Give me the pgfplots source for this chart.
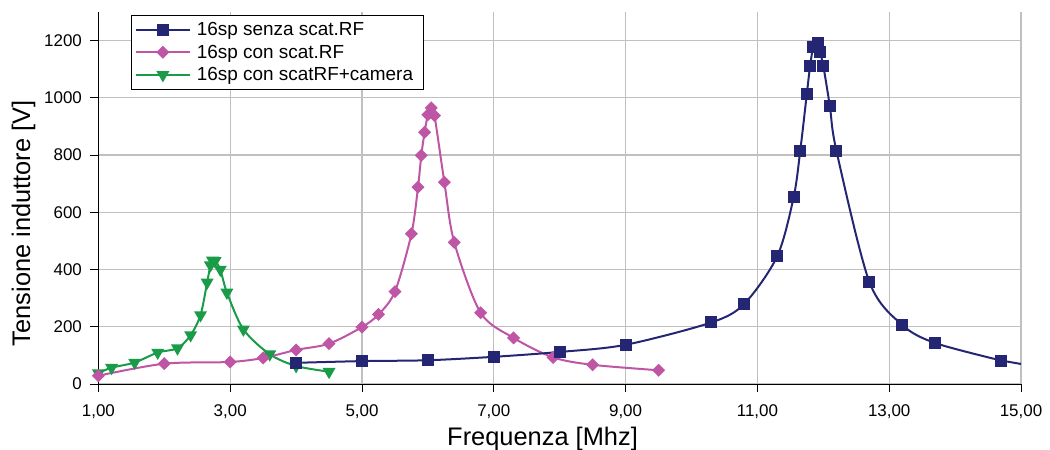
\documentclass[border=0pt]{standalone}
\usepackage{pgfplots}
\pgfplotsset{compat=1.18}
\usepackage{fontspec}
\setmainfont{Liberation Sans}
\definecolor{cblue}{RGB}{37,38,115}
\definecolor{cpink}{RGB}{190,85,165}
\definecolor{cgreen}{RGB}{25,155,72}
\definecolor{cgrid}{RGB}{192,192,192}
\begin{document}
\begin{tikzpicture}
\useasboundingbox (-98.4bp,-66bp) rectangle (951.6bp,384bp);
\begin{axis}[
  scale only axis,
  width=922.6bp, height=372bp,
  xmin=1, xmax=15, ymin=0, ymax=1300,
  xtick={1,3,5,7,9,11,13,15},
  ytick={0,200,400,600,800,1000,1200},
  axis x line*=bottom, axis y line*=left,
  axis line style={black, line width=0.8bp},
  tick align=outside,
  major tick length=8bp,
  tick style={black, line width=0.8bp},
  grid=major,
  major grid style={cgrid, line width=1.2bp},
  /pgf/number format/assume math mode=true,
  xticklabel style={/pgf/number format/fixed, /pgf/number format/fixed zerofill, /pgf/number format/precision=2, /pgf/number format/use comma, yshift=-9bp},
  yticklabel style={/pgf/number format/fixed, /pgf/number format/1000 sep={}, xshift=-5bp},
  ticklabel style={font=\fontsize{17}{20}\selectfont},
  xlabel={Frequenza [Mhz]},
  ylabel={Tensione induttore [V]},
  label style={font=\fontsize{25.5}{30}\selectfont},
  xlabel style={at={(axis description cs:0.4814,-0.164)}, anchor=base},
  ylabel style={at={(axis description cs:-0.0741,0.432)}, anchor=base},
  legend style={at={(axis description cs:0.035,0.992)}, anchor=north west,
    draw=black, fill=white,
    font=\fontsize{19}{21}\selectfont, row sep=4bp,
    inner xsep=4bp, inner ysep=5bp,
    nodes={inner xsep=6bp}},
  legend cell align=left,
  legend image code/.code={\draw[mark repeat=2,mark phase=2] plot coordinates {(0bp,0bp) (27bp,0bp) (54bp,0bp)};},
]
% green: 16sp con scatRF+camera
\addplot[cgreen, line width=2bp, smooth, mark=triangle*, mark size=5.5bp, mark options={rotate=180, solid}, forget plot] coordinates {
(1.0,38) (1.2,57) (1.55,75) (1.9,110) (2.2,125) (2.4,171) (2.55,241) (2.65,355) (2.7,415) (2.73,432) (2.77,430) (2.85,400) (2.95,320) (3.2,191) (3.6,104) (4.0,63) (4.5,43)
};
% pink: 16sp con scat.RF
\addplot[cpink, line width=2bp, smooth, mark=square*, mark size=3.6bp, mark options={rotate=45, solid}, forget plot] coordinates {
(1.0,29) (2.0,71) (3.0,77) (3.5,91) (4.0,119) (4.5,141) (5.0,199) (5.25,243) (5.5,323) (5.75,525) (5.85,688) (5.9,799) (5.95,880) (6.0,941) (6.05,965) (6.1,938) (6.25,705) (6.4,495) (6.8,249) (7.3,161) (7.9,93) (8.5,67) (9.5,48)
};
% blue: 16sp senza scat.RF
\addplot[cblue, line width=2bp, smooth, mark=square*, mark size=5bp, mark options={solid}, forget plot] coordinates {
(4.0,74) (5.0,80) (6.0,83) (7.0,95) (8.0,112) (9.0,137) (10.3,215) (10.8,280) (11.3,446) (11.55,653) (11.65,815) (11.75,1014) (11.8,1112) (11.85,1179) (11.92,1190) (11.95,1159) (12.0,1112) (12.1,970) (12.2,814) (12.7,356) (13.2,206) (13.7,143) (14.7,82)
};
\addplot[cblue, line width=2bp, forget plot] coordinates {(14.7,82) (15.0,70)};
\addlegendimage{cblue, line width=2bp, mark=square*, mark size=5bp, mark options={solid}}
\addlegendentry{16sp senza scat.RF}
\addlegendimage{cpink, line width=2bp, mark=square*, mark size=3.6bp, mark options={rotate=45, solid}}
\addlegendentry{16sp con scat.RF}
\addlegendimage{cgreen, line width=2bp, mark=triangle*, mark size=5.5bp, mark options={rotate=180, solid}}
\addlegendentry{16sp con scatRF+camera}
\end{axis}
\end{tikzpicture}
\end{document}
